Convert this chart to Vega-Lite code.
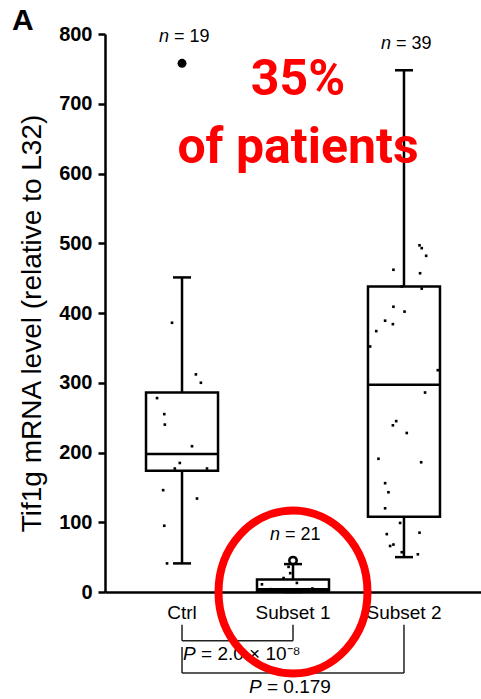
{
  "$schema": "https://vega.github.io/schema/vega-lite/v6.json",
  "width": 376,
  "height": 558,
  "autosize": "none",
  "padding": {"left": 105, "top": 34, "right": 0, "bottom": 107},
  "background": "white",
  "title": {
    "text": "A",
    "anchor": "start",
    "frame": "group",
    "fontSize": 30,
    "fontWeight": "bold",
    "font": "Liberation Sans",
    "color": "black",
    "dx": -93,
    "dy": 12,
    "offset": 0
  },
  "config": {
    "view": {"stroke": null},
    "font": "Liberation Sans",
    "axis": {
      "grid": false,
      "domainColor": "black",
      "domainWidth": 2.5,
      "tickColor": "black",
      "tickWidth": 2.5,
      "labelColor": "black",
      "titleColor": "black",
      "labelFont": "Liberation Sans",
      "titleFont": "Liberation Sans"
    }
  },
  "datasets": {
    "stats": [
      {"grp": "Ctrl", "lo": 41, "q1": 174, "med": 198, "q3": 286, "hi": 451, "max": 758, "n": 19},
      {"grp": "Subset 1", "lo": 0, "q1": 1, "med": 4, "q3": 18, "hi": 40, "max": 45, "n": 21},
      {"grp": "Subset 2", "lo": 50, "q1": 108, "med": 297, "q3": 438, "hi": 748, "max": 748, "n": 39}
    ],
    "points": [
      {"grp": "Ctrl", "jitter": -0.18, "value": 386},
      {"grp": "Ctrl", "jitter": 0.25, "value": 312},
      {"grp": "Ctrl", "jitter": 0.34, "value": 300},
      {"grp": "Ctrl", "jitter": -0.45, "value": 278},
      {"grp": "Ctrl", "jitter": -0.32, "value": 255},
      {"grp": "Ctrl", "jitter": -0.31, "value": 240},
      {"grp": "Ctrl", "jitter": 0.18, "value": 209},
      {"grp": "Ctrl", "jitter": -0.04, "value": 185},
      {"grp": "Ctrl", "jitter": -0.13, "value": 177},
      {"grp": "Ctrl", "jitter": 0.45, "value": 177},
      {"grp": "Ctrl", "jitter": -0.34, "value": 146},
      {"grp": "Ctrl", "jitter": 0.27, "value": 134},
      {"grp": "Ctrl", "jitter": -0.32, "value": 95},
      {"grp": "Ctrl", "jitter": -0.27, "value": 41},
      {"grp": "Subset 1", "jitter": -0.08, "value": 36},
      {"grp": "Subset 1", "jitter": -0.05, "value": 27},
      {"grp": "Subset 1", "jitter": -0.17, "value": 20},
      {"grp": "Subset 1", "jitter": -0.56, "value": 11},
      {"grp": "Subset 1", "jitter": 0.07, "value": 13},
      {"grp": "Subset 1", "jitter": -0.40, "value": 4},
      {"grp": "Subset 1", "jitter": 0.35, "value": 5},
      {"grp": "Subset 2", "jitter": 0.28, "value": 497},
      {"grp": "Subset 2", "jitter": 0.32, "value": 493},
      {"grp": "Subset 2", "jitter": 0.40, "value": 482},
      {"grp": "Subset 2", "jitter": -0.19, "value": 462},
      {"grp": "Subset 2", "jitter": 0.29, "value": 457},
      {"grp": "Subset 2", "jitter": -0.04, "value": 438},
      {"grp": "Subset 2", "jitter": 0.32, "value": 435},
      {"grp": "Subset 2", "jitter": -0.19, "value": 409},
      {"grp": "Subset 2", "jitter": 0.01, "value": 402},
      {"grp": "Subset 2", "jitter": -0.34, "value": 389},
      {"grp": "Subset 2", "jitter": -0.20, "value": 384},
      {"grp": "Subset 2", "jitter": -0.50, "value": 374},
      {"grp": "Subset 2", "jitter": -0.61, "value": 352},
      {"grp": "Subset 2", "jitter": 0.61, "value": 318},
      {"grp": "Subset 2", "jitter": 0.38, "value": 286},
      {"grp": "Subset 2", "jitter": -0.14, "value": 245},
      {"grp": "Subset 2", "jitter": -0.20, "value": 239},
      {"grp": "Subset 2", "jitter": 0.05, "value": 228},
      {"grp": "Subset 2", "jitter": -0.46, "value": 191},
      {"grp": "Subset 2", "jitter": 0.31, "value": 186},
      {"grp": "Subset 2", "jitter": -0.34, "value": 156},
      {"grp": "Subset 2", "jitter": -0.28, "value": 143},
      {"grp": "Subset 2", "jitter": -0.34, "value": 120},
      {"grp": "Subset 2", "jitter": -0.07, "value": 99},
      {"grp": "Subset 2", "jitter": -0.31, "value": 83},
      {"grp": "Subset 2", "jitter": 0.28, "value": 85},
      {"grp": "Subset 2", "jitter": -0.19, "value": 68},
      {"grp": "Subset 2", "jitter": -0.25, "value": 66},
      {"grp": "Subset 2", "jitter": -0.04, "value": 57},
      {"grp": "Subset 2", "jitter": 0.25, "value": 54}
    ],
    "outliers": [
      {"grp": "Ctrl", "value": 758},
      {"grp": "Subset 1", "value": 45}
    ],
    "bracketLegs": [
      {"grp": "Ctrl", "y1": -47, "y2": -70},
      {"grp": "Subset 1", "y1": -47, "y2": -70},
      {"grp": "Ctrl", "y1": -79, "y2": -116},
      {"grp": "Subset 2", "y1": -47, "y2": -116}
    ],
    "bracketBars": [
      {"grp": "Ctrl", "to": "Subset 1", "y": -70},
      {"grp": "Ctrl", "to": "Subset 2", "y": -116}
    ]
  },
  "layer": [
    {
      "data": {"name": "stats"},
      "mark": {"type": "rule", "color": "black", "strokeWidth": 2.5},
      "encoding": {
        "x": {
          "field": "grp",
          "type": "nominal",
          "sort": ["Ctrl", "Subset 1", "Subset 2"],
          "scale": {"paddingInner": 0, "paddingOuter": 0.194},
          "axis": {
            "title": null,
            "ticks": false,
            "labelAngle": 0,
            "labelFontSize": 19,
            "labelPadding": 11
          }
        },
        "y": {
          "field": "lo",
          "type": "quantitative",
          "scale": {"domain": [0, 800], "nice": false},
          "axis": {
            "title": "Tif1g mRNA level (relative to L32)",
            "values": [0, 100, 200, 300, 400, 500, 600, 700, 800],
            "tickSize": 7,
            "labelFontSize": 20,
            "labelFontWeight": "bold",
            "labelPadding": 6,
            "titleFontSize": 28,
            "titleFontWeight": "normal",
            "titlePadding": 12,
            "titleY": 289
          }
        },
        "y2": {"field": "hi"}
      }
    },
    {
      "data": {"name": "stats"},
      "mark": {"type": "bar", "fill": "white", "stroke": "black", "strokeWidth": 2.5, "size": 72},
      "encoding": {
        "x": {"field": "grp", "type": "nominal"},
        "y": {"field": "q1", "type": "quantitative"},
        "y2": {"field": "q3"}
      }
    },
    {
      "data": {"name": "stats"},
      "mark": {"type": "tick", "color": "black", "size": 72, "thickness": 2.5, "opacity": 1},
      "encoding": {
        "x": {"field": "grp", "type": "nominal"},
        "y": {"field": "med", "type": "quantitative"}
      }
    },
    {
      "data": {"name": "stats"},
      "mark": {"type": "tick", "color": "black", "size": 18, "thickness": 2.5, "opacity": 1},
      "encoding": {
        "x": {"field": "grp", "type": "nominal"},
        "y": {"field": "hi", "type": "quantitative"}
      }
    },
    {
      "data": {"name": "stats"},
      "mark": {"type": "tick", "color": "black", "size": 18, "thickness": 2.5, "opacity": 1},
      "encoding": {
        "x": {"field": "grp", "type": "nominal"},
        "y": {"field": "lo", "type": "quantitative"}
      }
    },
    {
      "data": {"name": "points"},
      "mark": {"type": "point", "shape": "square", "filled": true, "color": "black", "size": 7, "opacity": 1},
      "encoding": {
        "x": {"field": "grp", "type": "nominal"},
        "xOffset": {"field": "jitter", "type": "quantitative", "scale": {"domain": [-1, 1]}},
        "y": {"field": "value", "type": "quantitative"}
      }
    },
    {
      "data": {"name": "outliers"},
      "transform": [{"filter": "datum.grp === 'Ctrl'"}],
      "mark": {"type": "point", "shape": "circle", "filled": true, "color": "black", "size": 80, "opacity": 1},
      "encoding": {
        "x": {"field": "grp", "type": "nominal"},
        "y": {"field": "value", "type": "quantitative"}
      }
    },
    {
      "data": {"name": "outliers"},
      "transform": [{"filter": "datum.grp === 'Subset 1'"}],
      "mark": {"type": "point", "shape": "circle", "filled": false, "stroke": "black", "strokeWidth": 2.5, "size": 55, "opacity": 1},
      "encoding": {
        "x": {"field": "grp", "type": "nominal"},
        "y": {"field": "value", "type": "quantitative"}
      }
    },
    {
      "data": {"name": "stats"},
      "mark": {"type": "text", "fontStyle": "italic", "fontSize": 18, "align": "right", "baseline": "middle", "dx": -13, "dy": -26, "color": "black"},
      "encoding": {
        "x": {"field": "grp", "type": "nominal"},
        "y": {"field": "max", "type": "quantitative"},
        "text": {"value": "n"}
      }
    },
    {
      "data": {"name": "stats"},
      "transform": [{"calculate": "'= ' + datum.n", "as": "nLabel"}],
      "mark": {"type": "text", "fontSize": 18, "align": "left", "baseline": "middle", "dx": -8, "dy": -26, "color": "black"},
      "encoding": {
        "x": {"field": "grp", "type": "nominal"},
        "y": {"field": "max", "type": "quantitative"},
        "text": {"field": "nLabel"}
      }
    },
    {
      "data": {"name": "bracketLegs"},
      "mark": {"type": "rule", "color": "#222", "strokeWidth": 1.5},
      "encoding": {
        "x": {"field": "grp", "type": "nominal"},
        "y": {"field": "y1", "type": "quantitative"},
        "y2": {"field": "y2"}
      }
    },
    {
      "data": {"name": "bracketBars"},
      "mark": {"type": "rule", "color": "#222", "strokeWidth": 1.5},
      "encoding": {
        "x": {"field": "grp", "type": "nominal"},
        "x2": {"field": "to"},
        "y": {"field": "y", "type": "quantitative"}
      }
    },
    {
      "data": {"values": [{"grp": "Ctrl", "y": -89}]},
      "mark": {"type": "text", "fontStyle": "italic", "fontSize": 19, "align": "left", "baseline": "middle", "dx": 1, "color": "black"},
      "encoding": {
        "x": {"field": "grp", "type": "nominal"},
        "y": {"field": "y", "type": "quantitative"},
        "text": {"value": "P"}
      }
    },
    {
      "data": {"values": [{"grp": "Ctrl", "y": -89, "p": "= 2.0 × 10⁻⁸"}]},
      "mark": {"type": "text", "fontSize": 19, "align": "left", "baseline": "middle", "dx": 19, "color": "black"},
      "encoding": {
        "x": {"field": "grp", "type": "nominal"},
        "y": {"field": "y", "type": "quantitative"},
        "text": {"field": "p"}
      }
    },
    {
      "data": {"values": [{"grp": "Subset 1", "y": -136}]},
      "mark": {"type": "text", "fontStyle": "italic", "fontSize": 19, "align": "left", "baseline": "middle", "dx": -44, "color": "black"},
      "encoding": {
        "x": {"field": "grp", "type": "nominal"},
        "y": {"field": "y", "type": "quantitative"},
        "text": {"value": "P"}
      }
    },
    {
      "data": {"values": [{"grp": "Subset 1", "y": -136, "p": "= 0.179"}]},
      "mark": {"type": "text", "fontSize": 19, "align": "left", "baseline": "middle", "dx": -26, "color": "black"},
      "encoding": {
        "x": {"field": "grp", "type": "nominal"},
        "y": {"field": "y", "type": "quantitative"},
        "text": {"field": "p"}
      }
    },
    {
      "data": {"values": [
        {"grp": "Subset 1", "y": 734, "line": "35%"},
        {"grp": "Subset 1", "y": 637, "line": "of patients"}
      ]},
      "mark": {"type": "text", "font": "Roboto", "fontWeight": "bold", "fontSize": 50, "align": "center", "baseline": "middle", "dx": 5, "color": "#ff0000"},
      "encoding": {
        "x": {"field": "grp", "type": "nominal"},
        "y": {"field": "y", "type": "quantitative"},
        "text": {"field": "line"}
      }
    },
    {
      "data": {"values": [{"grp": "Subset 1", "y": 0}]},
      "mark": {
        "type": "point",
        "shape": "M 0.914 0 C 0.914 0.5523 0.5048 1 0 1 C -0.5048 1 -0.914 0.5523 -0.914 0 C -0.914 -0.5523 -0.5048 -1 0 -1 C 0.5048 -1 0.914 -0.5523 0.914 0 Z",
        "filled": false,
        "stroke": "#ff0000",
        "strokeWidth": 8,
        "size": 26569,
        "opacity": 1,
        "dx": 6
      },
      "encoding": {
        "x": {"field": "grp", "type": "nominal"},
        "y": {"field": "y", "type": "quantitative"}
      }
    }
  ]
}
